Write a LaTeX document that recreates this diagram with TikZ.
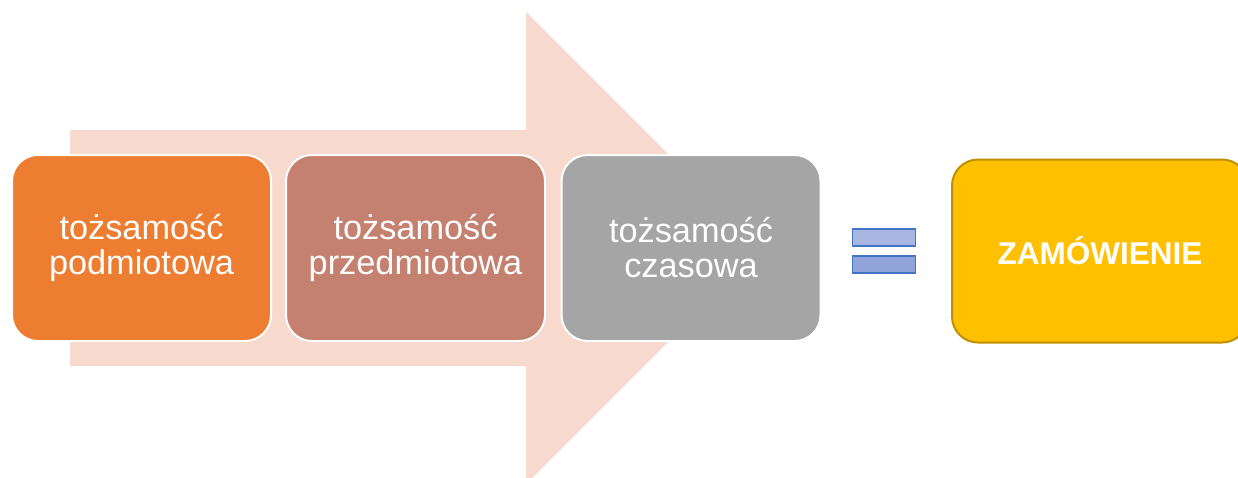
\documentclass[tikz,border=0pt]{standalone}
\usepackage{fontspec}
\setmainfont{Liberation Sans}
\definecolor{arrowfill}{HTML}{F8D9CE}
\definecolor{orangebox}{HTML}{ED7D31}
\definecolor{brownbox}{HTML}{C58170}
\definecolor{graybox}{HTML}{A5A5A5}
\definecolor{eqfillA}{HTML}{A8B7E2}
\definecolor{eqfillB}{HTML}{90A4DA}
\definecolor{eqline}{HTML}{4472C4}
\definecolor{goldfill}{HTML}{FFC000}
\definecolor{goldline}{HTML}{BF9000}
\begin{document}
\begin{tikzpicture}[x=1pt,y=-1pt,
  stagebox/.style={rectangle, rounded corners=26pt, draw=white, line width=2pt,
    minimum width=259pt, minimum height=186pt, text=white, align=center,
    font=\fontsize{34.3pt}{35pt}\selectfont, inner sep=0pt},
  eqbar/.style={rectangle, draw=eqline, line width=1.5pt, minimum width=63pt,
    minimum height=17pt, inner sep=0pt},
  resultbox/.style={rectangle, rounded corners=26pt, draw=goldline, line width=2pt,
    fill=goldfill, minimum width=296pt, minimum height=183pt, text=white,
    font=\fontsize{31.5pt}{36pt}\selectfont\bfseries, inner sep=0pt}]
\useasboundingbox (0,0) rectangle (1238,477);
% background arrow
\fill[arrowfill] (70,130) -- (526,130) -- (526,12) -- (762,248) -- (526,484) -- (526,366) -- (70,366) -- cycle;
% stage boxes
\node[stagebox, fill=orangebox] (s1) at (141.5,248) {tożsamość\\podmiotowa};
\node[stagebox, fill=brownbox] (s2) at (415.5,248) {tożsamość\\przedmiotowa};
\node[stagebox, fill=graybox] (s3) at (691,248) {tożsamość\\czasowa};
% equals sign
\node[eqbar, fill=eqfillA] (eqtop) at (884,237.5) {};
\node[eqbar, fill=eqfillB] (eqbot) at (884,264.5) {};
% result
\node[resultbox] (res) at (1100,251) {ZAMÓWIENIE};
\end{tikzpicture}
\end{document}
